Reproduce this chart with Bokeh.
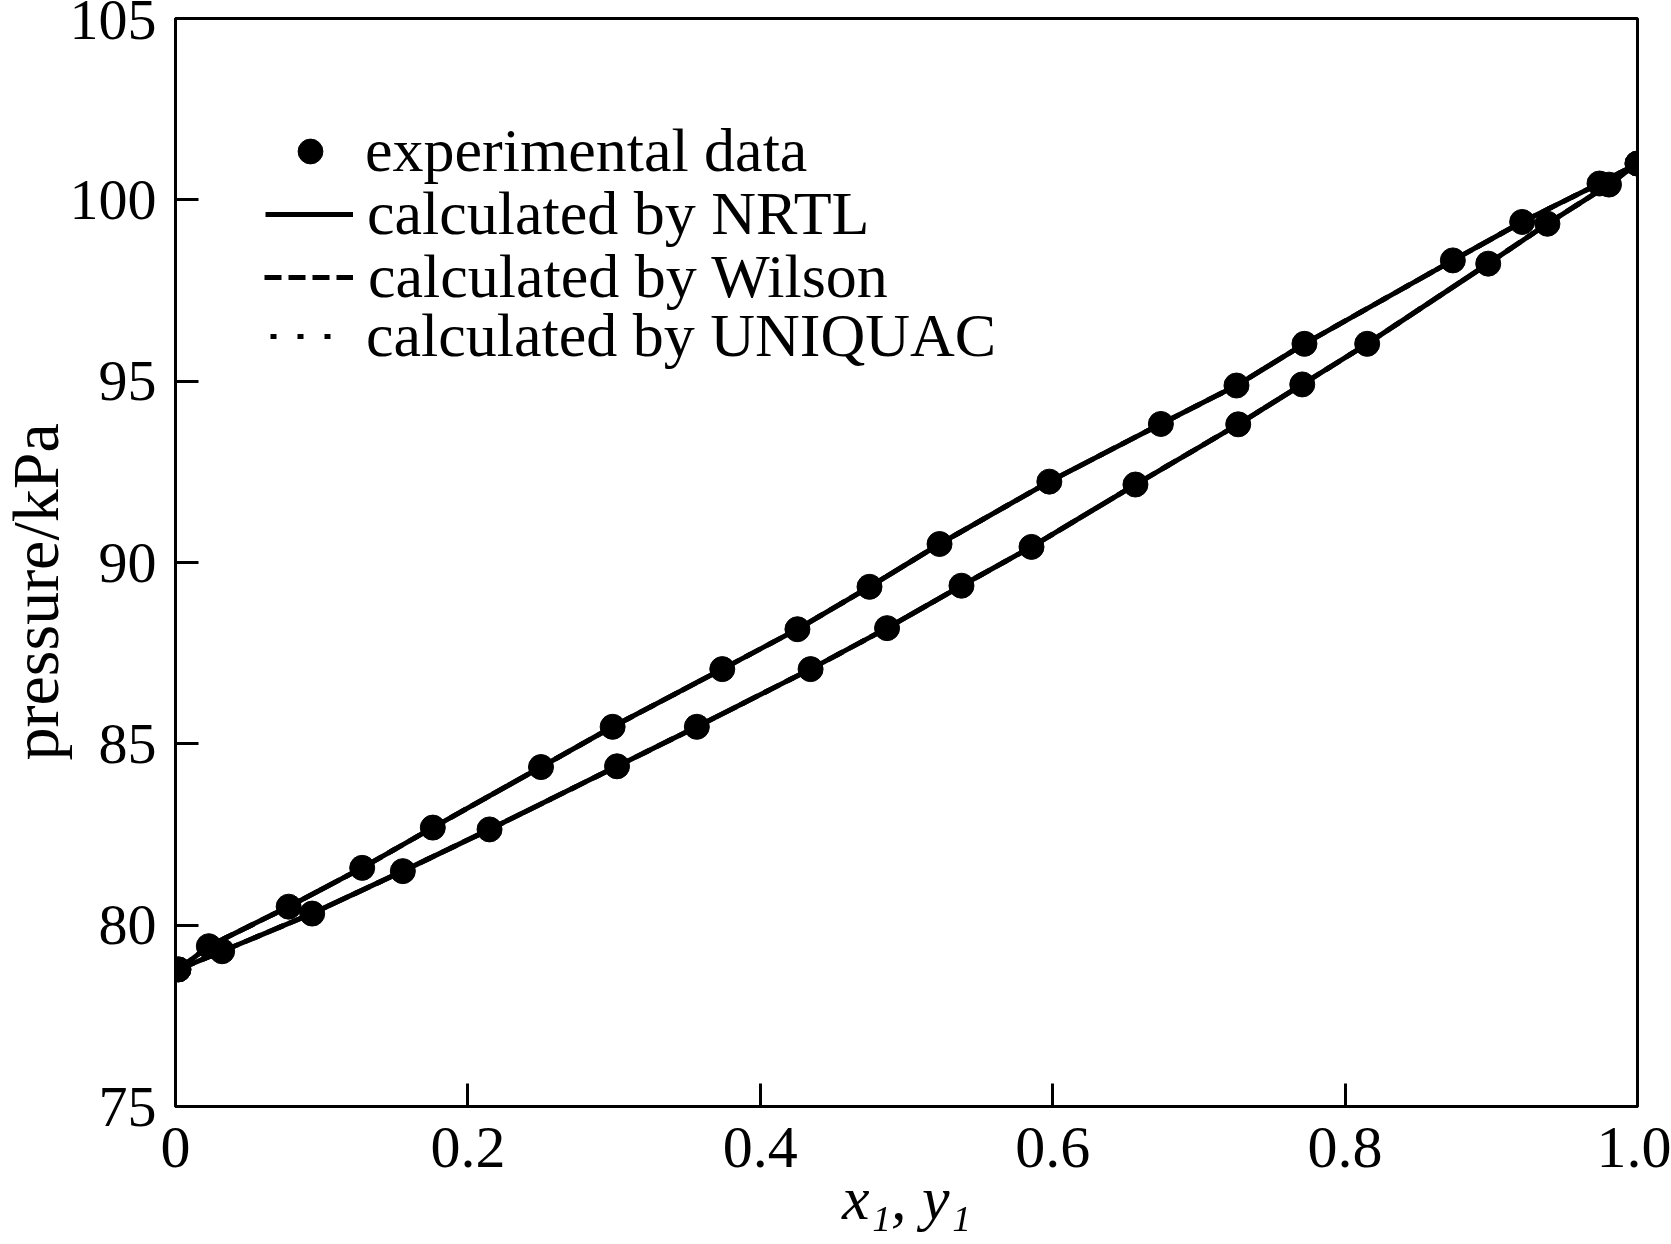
from bokeh.plotting import figure
from bokeh.models import Range1d, FixedTicker, Legend, LegendItem, Title
from bokeh.embed import file_html
from bokeh.resources import INLINE

# ---- data ----
# liquid phase (bubble line): x1 vs pressure / kPa
x_liquid = [0.002, 0.0228, 0.0774, 0.1277, 0.176, 0.250, 0.299, 0.374, 0.4254,
            0.4747, 0.5226, 0.5977, 0.674, 0.7257, 0.7722, 0.8737, 0.9211, 0.974, 1.0]
p_liquid = [78.78, 79.42, 80.51, 81.58, 82.69, 84.36, 85.47, 87.06, 88.16,
            89.33, 90.51, 92.23, 93.82, 94.88, 96.03, 98.33, 99.39, 100.45, 101.0]
# vapour phase (dew line): y1 vs pressure / kPa
y_vapor = [0.002, 0.0319, 0.0935, 0.1555, 0.2148, 0.302, 0.3566, 0.4344, 0.4867,
           0.5376, 0.5855, 0.6566, 0.7269, 0.7707, 0.8151, 0.8979, 0.9384, 0.9805, 1.0]
p_vapor = [78.78, 79.28, 80.32, 81.49, 82.64, 84.38, 85.47, 87.06, 88.19,
           89.36, 90.43, 92.15, 93.81, 94.91, 96.03, 98.24, 99.34, 100.42, 101.0]

x_ticks = [0, 0.2, 0.4, 0.6, 0.8, 1.0]
x_tick_labels = ["0", "0.2", "0.4", "0.6", "0.8", "1.0"]
y_ticks = [75, 80, 85, 90, 95, 100, 105]

legend_labels = ["experimental data", "calculated by NRTL",
                 "calculated by Wilson", "calculated by UNIQUAC"]

FONT = "Liberation Serif"

p = figure(width=1671, height=1244, output_backend="svg", toolbar_location=None,
           x_range=Range1d(0, 1), y_range=Range1d(75, 105),
           min_border_left=175, min_border_right=34, min_border_top=18,
           min_border_bottom=138)
p.xgrid.visible = False
p.ygrid.visible = False
p.background_fill_color = "white"
p.border_fill_color = "white"
p.outline_line_color = "black"
p.outline_line_width = 3
p.outline_line_alpha = 1.0

p.xaxis.ticker = FixedTicker(ticks=x_ticks)
p.xaxis.major_label_overrides = {t: s for t, s in zip(x_ticks, x_tick_labels)}
p.yaxis.ticker = FixedTicker(ticks=y_ticks)

for ax in (p.xaxis[0], p.yaxis[0]):
    ax.axis_line_color = "black"
    ax.axis_line_width = 3
    ax.major_tick_line_color = "black"
    ax.major_tick_line_width = 3
    ax.major_tick_in = 23
    ax.major_tick_out = 0
    ax.minor_tick_line_color = None
    ax.major_label_text_font = FONT
    ax.major_label_text_font_size = "58px"
    ax.major_label_text_color = "black"
    ax.axis_label_text_font = FONT
    ax.axis_label_text_font_size = "62px"
    ax.axis_label_text_color = "black"

p.xaxis.major_label_text_font_size = "60px"
p.yaxis.major_label_standoff = 19

p.xaxis.axis_label = "x\u2081, y\u2081"
p.xaxis.axis_label_text_font_style = "italic"
p.xaxis.major_label_standoff = 21
p.xaxis.axis_label_standoff = -6

# y axis title, in its own panel left of the tick labels
ytitle = Title(text="pressure/kPa", align="left", offset=346, standoff=-14,
               vertical_align="top", text_font=FONT, text_font_size="66px",
               text_font_style="normal", text_color="black")
p.add_layout(ytitle, "left")

LW = 5
pairs = ((x_liquid, p_liquid), (y_vapor, p_vapor))
# calculated curves (they coincide on the picture)
uq = [p.line(xs, ps, line_color="black", line_width=LW, line_dash="6 21", line_join="round")
      for xs, ps in pairs]
wi = [p.line(xs, ps, line_color="black", line_width=LW, line_dash="17 7", line_join="round")
      for xs, ps in pairs]
nr = [p.line(xs, ps, line_color="black", line_width=LW, line_join="round")
      for xs, ps in pairs]
# experimental points
ex = [p.scatter(xs, ps, marker="circle", size=25, fill_color="black", line_color="black")
      for xs, ps in pairs]

ROW_H = 62


def make_legend(renderers, label, glyph_width, loc_x, center_y, standoff):
    lg = Legend(items=[LegendItem(label=label, renderers=renderers)],
                location=(loc_x, 1106 - center_y - ROW_H // 2),
                glyph_width=glyph_width, glyph_height=ROW_H, label_height=ROW_H,
                padding=0, margin=0, spacing=0, label_standoff=standoff,
                border_line_color=None, background_fill_alpha=0,
                label_text_font=FONT, label_text_font_size="62px",
                label_text_color="black")
    p.add_layout(lg)


make_legend(ex[:1], legend_labels[0], 62, 104, 155, 24)
make_legend(nr[:1], legend_labels[1], 88, 90, 218, 14)
make_legend(wi[:1], legend_labels[2], 89, 89, 281, 15)
make_legend(uq[:1], legend_labels[3], 62, 95, 340, 34)

open("out.html", "w").write(file_html(p, INLINE))
